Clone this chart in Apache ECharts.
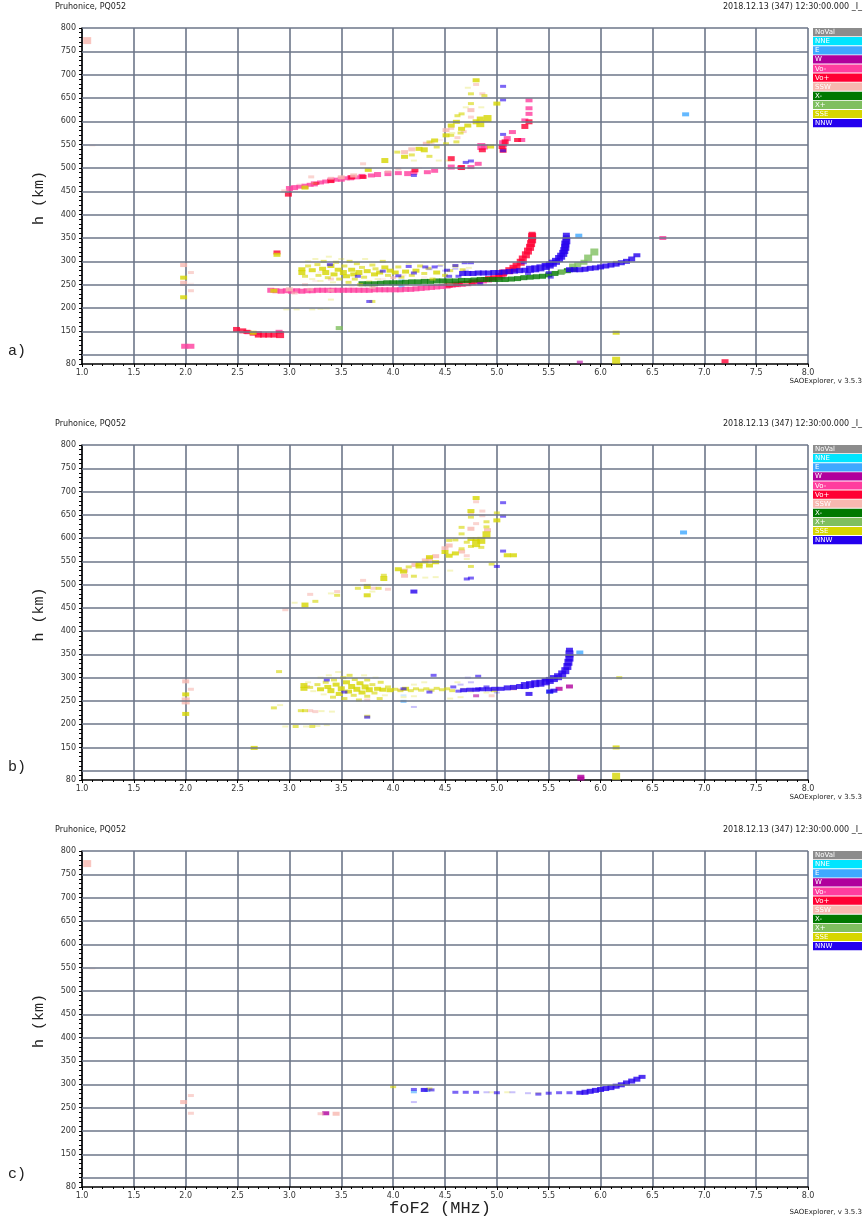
<!DOCTYPE html>
<html>
<head>
<meta charset="utf-8">
<script src="https://cdn.jsdelivr.net/npm/echarts@6/dist/echarts.min.js"></script>
<style>
  html, body { margin: 0; padding: 0; background: #fff; }
  #chart { width: 868px; height: 1223px; }
</style>
</head>
<body>
<div id="chart"></div>
<script>
// ionogram classes (legend order)
var classNames = ["NoVal", "NNE", "E", "W", "Vo-", "Vo+", "SSW", "X-", "X+", "SSE", "NNW"];
var classColors = ["#8c8c8c", "#00e5ff", "#3fa8ff", "#b0009c", "#ff3d9e", "#ff0033", "#f7b8b0", "#007800", "#7fbf5f", "#d6d600", "#2400ee"];

var heightLines = [100, 150, 200, 250, 300, 350, 400, 450, 500, 550, 600, 650, 700, 750, 800];
var heightLabels = [80, 150, 200, 250, 300, 350, 400, 450, 500, 550, 600, 650, 700, 750, 800];

// [freq MHz, virtual height km, amplitude 1..5]
// ---- panel a ----
var aSSW = [
  [1.05, 773, 5], [1.1, 548, 1], [1.98, 292, 3], [2.05, 276, 2], [1.98, 253, 4], [2.05, 237, 2], [2.05, 252, 1],
  [2.95, 451, 2], [3.1, 465, 1], [3.21, 481, 2], [3.4, 478, 2], [3.5, 480, 3], [3.62, 484, 3], [3.71, 509, 2],
  [3.95, 492, 2], [4.05, 498, 2], [4.11, 534, 3], [4.18, 540, 3], [4.25, 500, 1], [4.32, 552, 3], [4.37, 555, 2],
  [4.45, 560, 1], [4.51, 581, 3], [4.56, 585, 2], [4.62, 565, 2], [4.68, 578, 2], [4.75, 609, 2], [4.75, 624, 3],
  [4.8, 679, 2], [4.86, 659, 2],
  [3.0, 240, 3], [3.05, 232, 2], [3.15, 250, 2], [3.2, 240, 2], [3.25, 258, 1], [3.3, 277, 1], [3.4, 262, 2],
  [3.4, 238, 2], [3.6, 245, 1], [3.8, 244, 2], [3.9, 262, 1], [4.0, 265, 2], [4.1, 270, 1], [4.3, 266, 1],
  [4.5, 256, 2], [4.55, 251, 2], [4.6, 254, 1], [4.7, 252, 2], [4.85, 262, 2]
];
var aVoMinus = [
  [1.99, 118, 4], [2.05, 118, 4], [2.6, 148, 3], [2.7, 146, 3], [2.9, 149, 3], [6.6, 350, 3],
  [2.82, 238, 4], [2.87, 237, 4], [2.92, 236, 4], [2.97, 237, 4], [3.02, 236, 4], [3.07, 237, 4], [3.12, 236, 4],
  [3.17, 237, 4], [3.22, 237, 4], [3.27, 238, 4], [3.32, 238, 4], [3.37, 238, 4], [3.42, 238, 4], [3.47, 238, 4],
  [3.52, 238, 4], [3.57, 238, 4], [3.62, 238, 4], [3.67, 238, 4], [3.72, 238, 4], [3.77, 238, 4], [3.82, 239, 4],
  [3.87, 239, 4], [3.92, 239, 4], [3.97, 239, 4], [4.02, 239, 4], [4.07, 239, 4], [4.12, 240, 4], [4.17, 240, 4],
  [4.22, 241, 4], [4.27, 242, 4], [4.32, 243, 4], [4.37, 244, 4], [4.42, 245, 4], [4.47, 246, 4], [4.52, 247, 4],
  [4.57, 249, 4], [4.62, 250, 4], [4.67, 251, 4], [4.72, 252, 4], [4.77, 254, 4], [4.82, 256, 4], [4.87, 258, 4],
  [4.92, 260, 4], [4.97, 262, 4], [5.02, 265, 4], [5.05, 268, 4],
  [3.0, 456, 4], [3.05, 458, 4], [3.1, 460, 3], [3.15, 461, 4], [3.2, 464, 3], [3.24, 466, 4], [3.3, 469, 3],
  [3.35, 471, 3], [3.4, 474, 4], [3.45, 475, 3], [3.5, 476, 4], [3.55, 478, 3], [3.59, 479, 4], [3.65, 480, 3],
  [3.7, 482, 4], [3.79, 484, 3], [3.85, 486, 4], [3.95, 488, 4], [4.05, 489, 3], [4.14, 488, 4], [4.2, 490, 3],
  [4.33, 491, 3], [4.4, 494, 3], [4.56, 502, 4], [4.65, 501, 3], [4.75, 502, 3], [4.82, 509, 3], [4.85, 546, 5],
  [4.88, 545, 4], [5.06, 552, 5], [5.1, 563, 4], [5.15, 577, 3], [5.24, 560, 3], [5.27, 602, 3], [5.31, 616, 3],
  [5.31, 628, 3], [5.31, 645, 3]
];
var aVoPlus = [
  [2.49, 154, 4], [2.55, 151, 4], [2.59, 149, 3], [2.65, 145, 3], [2.7, 142, 4], [2.75, 142, 4], [2.8, 142, 4],
  [2.85, 142, 4], [2.91, 143, 5], [2.88, 319, 3], [7.2, 86, 3],
  [4.54, 249, 4], [4.6, 251, 4], [4.66, 252, 4], [4.71, 253, 4], [4.76, 256, 4], [4.83, 258, 4], [4.88, 261, 4],
  [4.92, 263, 4], [4.97, 265, 4], [5.02, 270, 4], [5.06, 275, 5], [5.12, 280, 5], [5.16, 285, 5], [5.19, 290, 5],
  [5.23, 298, 5], [5.25, 305, 5], [5.28, 314, 5], [5.3, 322, 5], [5.32, 330, 5], [5.33, 338, 5], [5.34, 346, 5],
  [5.34, 353, 5], [5.34, 358, 4],
  [2.99, 444, 4], [3.26, 467, 2], [3.4, 472, 3], [3.6, 480, 3], [3.71, 481, 3], [4.21, 495, 3], [4.56, 520, 4],
  [4.66, 501, 4], [4.86, 538, 3], [5.05, 545, 3], [5.06, 538, 4], [5.08, 556, 4], [5.2, 560, 3], [5.27, 589, 4],
  [5.31, 599, 4]
];
var aXMinus = [
  [3.7, 252, 4], [3.76, 252, 4], [3.82, 252, 4], [3.88, 253, 4], [3.94, 254, 4], [4.0, 254, 4], [4.06, 254, 4],
  [4.12, 255, 4], [4.18, 256, 4], [4.24, 256, 4], [4.3, 257, 4], [4.36, 257, 4], [4.42, 258, 4], [4.48, 258, 4],
  [4.54, 258, 4], [4.6, 258, 4], [4.66, 259, 4], [4.72, 259, 4], [4.78, 260, 4], [4.84, 261, 4], [4.9, 261, 4],
  [4.96, 261, 4], [5.02, 261, 4], [5.08, 261, 4], [5.14, 262, 4], [5.2, 263, 4], [5.26, 265, 4], [5.32, 266, 4],
  [5.38, 267, 4], [5.44, 268, 4], [5.5, 271, 4], [5.56, 274, 4], [5.62, 277, 4], [5.68, 280, 4], [5.74, 283, 4]
];
var aXPlus = [
  [3.48, 157, 3], [5.63, 277, 3], [5.73, 290, 4], [5.78, 293, 4], [5.84, 298, 4], [5.88, 307, 5], [5.94, 320, 5]
];
var aE = [[5.79, 355, 3], [6.82, 615, 3], [4.08, 258, 2], [4.08, 246, 2]];
var aW = [[5.8, 84, 2]];
var aSSE = [
  [1.98, 265, 3], [1.98, 223, 3], [2.65, 147, 3], [2.85, 237, 3], [2.88, 314, 3], [6.15, 147, 3], [6.15, 88, 5], [6.15, 298, 2],
  [2.97, 197, 1], [3.07, 197, 1], [3.22, 197, 1], [3.3, 198, 1], [3.36, 199, 1], [3.4, 218, 1], [3.8, 214, 2],
  [3.12, 283, 3], [3.12, 276, 4], [3.15, 268, 2], [3.18, 300, 1], [3.18, 290, 2], [3.22, 281, 3], [3.22, 262, 1],
  [3.25, 305, 1], [3.27, 293, 2], [3.28, 270, 2], [3.3, 258, 1], [3.32, 284, 3], [3.33, 300, 2], [3.35, 276, 4],
  [3.37, 265, 2], [3.38, 310, 1], [3.4, 290, 3], [3.42, 255, 1], [3.43, 272, 3], [3.45, 298, 2], [3.47, 282, 3],
  [3.48, 262, 2], [3.5, 305, 1], [3.52, 276, 4], [3.53, 290, 2], [3.55, 268, 3], [3.57, 255, 2], [3.58, 300, 2],
  [3.6, 282, 3], [3.62, 272, 3], [3.63, 262, 2], [3.65, 295, 2], [3.67, 276, 4], [3.68, 250, 2], [3.7, 287, 2],
  [3.72, 266, 2], [3.73, 305, 1], [3.75, 279, 3], [3.77, 258, 1], [3.8, 292, 2], [3.82, 272, 3], [3.83, 284, 2],
  [3.85, 262, 1], [3.87, 276, 3], [3.9, 300, 2], [3.92, 287, 3], [3.95, 270, 2], [3.97, 280, 3], [4.02, 276, 3],
  [4.05, 288, 2], [4.08, 266, 2], [4.12, 278, 3], [4.15, 295, 1], [4.18, 270, 2], [4.22, 280, 3], [4.26, 290, 2],
  [4.3, 274, 2], [4.34, 285, 2], [4.38, 262, 2], [4.42, 276, 3], [4.46, 292, 1], [4.5, 270, 2], [4.55, 280, 2],
  [4.6, 290, 2], [4.67, 282, 2], [4.73, 286, 1], [4.82, 275, 1],
  [3.15, 458, 3], [3.24, 467, 1], [3.76, 496, 3], [3.92, 516, 4], [4.04, 534, 2], [4.11, 524, 3], [4.18, 528, 2],
  [4.2, 516, 1], [4.25, 541, 3], [4.3, 539, 4], [4.35, 556, 2], [4.35, 525, 2], [4.4, 559, 3], [4.42, 545, 2],
  [4.44, 516, 1], [4.51, 570, 3], [4.51, 552, 2], [4.53, 516, 1], [4.56, 591, 3], [4.56, 570, 2], [4.57, 575, 1],
  [4.61, 599, 3], [4.61, 556, 2], [4.62, 612, 2], [4.65, 575, 2], [4.66, 616, 2], [4.66, 584, 3], [4.7, 630, 1],
  [4.72, 591, 3], [4.72, 672, 1], [4.75, 638, 2], [4.75, 659, 2], [4.8, 599, 4], [4.8, 688, 3], [4.84, 595, 5],
  [4.84, 606, 3], [4.85, 630, 1], [4.88, 655, 2], [4.91, 606, 5], [4.94, 546, 3], [5.0, 638, 3]
];
var aNNW = [
  [4.67, 274, 4], [4.72, 274, 4], [4.77, 274, 4], [4.82, 275, 4], [4.87, 275, 4], [4.92, 275, 4], [4.97, 276, 4],
  [5.02, 276, 4], [5.07, 277, 4], [5.12, 278, 4], [5.17, 279, 4], [5.22, 280, 4], [5.27, 281, 4], [5.32, 283, 5],
  [5.37, 284, 5], [5.42, 286, 5], [5.47, 289, 5], [5.51, 292, 5], [5.54, 296, 5], [5.57, 300, 5], [5.6, 306, 5],
  [5.62, 311, 5], [5.64, 317, 5], [5.65, 323, 5], [5.66, 330, 5], [5.66, 337, 5], [5.67, 344, 5], [5.67, 350, 4],
  [5.67, 357, 3],
  [5.7, 282, 4], [5.75, 282, 4], [5.8, 282, 4], [5.85, 283, 4], [5.9, 285, 4], [5.95, 286, 4], [6.0, 288, 4],
  [6.05, 290, 4], [6.1, 292, 4], [6.15, 294, 4], [6.2, 297, 4], [6.25, 300, 4], [6.3, 305, 4], [6.35, 313, 3],
  [3.39, 293, 2], [3.66, 268, 2], [3.77, 214, 2], [3.9, 279, 2], [4.05, 269, 2], [4.15, 289, 2], [4.2, 275, 2],
  [4.31, 288, 2], [4.4, 288, 2], [4.52, 281, 2], [4.54, 268, 2], [4.6, 291, 2], [4.63, 268, 2], [4.69, 297, 2],
  [4.75, 297, 2], [4.84, 252, 2], [5.26, 297, 2], [5.3, 274, 2], [5.47, 292, 2], [5.5, 276, 2], [5.52, 266, 2],
  [4.35, 283, 1], [4.45, 290, 1], [4.5, 280, 1], [4.6, 284, 1], [4.7, 280, 1],
  [5.06, 675, 2], [5.06, 646, 2], [5.06, 572, 2], [5.06, 537, 2], [4.75, 515, 2], [4.7, 512, 2], [4.2, 484, 2]
];

// ---- panel b ----
var bSSW = [
  [2.0, 292, 3], [2.05, 275, 2], [2.0, 250, 5], [3.17, 281, 2], [3.2, 229, 2], [3.25, 227, 2], [3.75, 252, 2],
  [4.07, 274, 2], [4.95, 261, 2], [5.16, 277, 3],
  [2.96, 446, 2], [3.2, 479, 2], [3.46, 485, 2], [3.71, 509, 2], [3.81, 492, 2], [3.95, 490, 2], [4.11, 530, 3],
  [4.11, 519, 3], [4.21, 542, 3], [4.31, 552, 3], [4.35, 555, 4], [4.41, 561, 3], [4.5, 578, 3], [4.54, 584, 3],
  [4.66, 571, 3], [4.71, 562, 2], [4.75, 620, 3], [4.75, 653, 2], [4.8, 631, 2], [4.8, 678, 2], [4.86, 658, 2],
  [4.86, 648, 2], [4.91, 617, 3]
];
var bSSE = [
  [2.0, 264, 3], [2.0, 222, 3], [2.66, 149, 3], [2.9, 313, 2], [2.85, 235, 2], [2.91, 241, 1], [3.75, 217, 2],
  [6.18, 300, 2], [6.15, 150, 3], [6.15, 88, 5],
  [2.96, 195, 1], [3.06, 195, 2], [3.16, 195, 1], [3.22, 195, 2], [3.27, 196, 1], [3.36, 198, 1],
  [3.11, 229, 2], [3.15, 229, 2], [3.31, 228, 1], [3.41, 227, 1],
  [3.14, 283, 4], [3.14, 276, 3], [3.18, 290, 1], [3.2, 279, 2], [3.23, 271, 1], [3.27, 285, 2], [3.3, 300, 1],
  [3.3, 275, 3], [3.33, 264, 1], [3.35, 290, 2], [3.37, 280, 3], [3.38, 305, 1], [3.4, 272, 4], [3.42, 258, 2],
  [3.43, 295, 2], [3.45, 285, 3], [3.47, 312, 1], [3.48, 265, 3], [3.5, 276, 4], [3.52, 300, 2], [3.53, 255, 2],
  [3.55, 290, 3], [3.57, 270, 3], [3.58, 305, 2], [3.6, 281, 4], [3.62, 262, 2], [3.63, 296, 2], [3.65, 275, 4],
  [3.67, 252, 2], [3.68, 288, 3], [3.7, 268, 3], [3.72, 305, 1], [3.73, 280, 4], [3.75, 260, 2], [3.75, 295, 2],
  [3.77, 274, 4], [3.8, 285, 2], [3.82, 267, 2], [3.83, 300, 1], [3.85, 276, 3], [3.87, 255, 2], [3.88, 290, 2],
  [3.9, 274, 3], [3.92, 262, 1], [3.95, 280, 2], [3.97, 273, 3],
  [4.02, 275, 2], [4.07, 272, 2], [4.1, 258, 1], [4.12, 276, 3], [4.17, 272, 2], [4.2, 285, 1], [4.2, 260, 1],
  [4.22, 276, 2], [4.27, 273, 2], [4.3, 290, 1], [4.32, 276, 2], [4.37, 273, 2], [4.42, 277, 2], [4.47, 274, 2],
  [4.52, 276, 2], [4.55, 255, 1], [4.57, 272, 2], [4.62, 290, 1], [4.65, 258, 1], [4.67, 276, 1], [4.75, 270, 1],
  [4.82, 275, 1], [4.9, 268, 1], [4.97, 272, 2],
  [3.05, 461, 1], [3.15, 456, 4], [3.25, 464, 2], [3.4, 481, 1], [3.46, 477, 2], [3.66, 492, 2], [3.75, 496, 4],
  [3.75, 477, 3], [3.8, 485, 1], [3.86, 492, 2], [3.91, 513, 4], [3.91, 520, 2], [4.05, 533, 3], [4.1, 528, 3],
  [4.15, 538, 2], [4.2, 518, 2], [4.25, 544, 3], [4.25, 539, 3], [4.31, 515, 1], [4.31, 548, 2], [4.35, 559, 3],
  [4.35, 541, 3], [4.41, 548, 3], [4.41, 516, 1], [4.5, 570, 3], [4.54, 562, 3], [4.54, 595, 2], [4.55, 530, 1],
  [4.6, 567, 3], [4.6, 596, 2], [4.66, 577, 2], [4.66, 609, 2], [4.66, 623, 2], [4.71, 591, 2], [4.71, 555, 1],
  [4.75, 598, 3], [4.75, 582, 2], [4.75, 658, 3], [4.75, 645, 2], [4.75, 539, 2], [4.8, 686, 3], [4.8, 588, 5],
  [4.8, 598, 3], [4.85, 595, 5], [4.85, 580, 2], [4.9, 607, 5], [4.9, 624, 2], [4.9, 635, 2], [4.95, 544, 2],
  [5.0, 638, 3], [5.0, 654, 2], [5.1, 563, 3], [5.16, 563, 3]
];
var bNNW = [
  [4.68, 273, 3], [4.74, 274, 3], [4.8, 274, 3], [4.86, 275, 3], [4.92, 275, 3], [4.98, 276, 3], [5.04, 276, 3],
  [5.1, 278, 4], [5.16, 279, 4], [5.22, 281, 4], [5.27, 283, 5], [5.32, 285, 5], [5.37, 287, 5], [5.42, 288, 5],
  [5.47, 291, 5], [5.51, 294, 5], [5.55, 298, 5], [5.59, 302, 5], [5.63, 308, 5], [5.66, 315, 5], [5.68, 324, 5],
  [5.69, 333, 5], [5.7, 342, 5], [5.7, 351, 5], [5.7, 360, 3],
  [3.36, 295, 2], [3.53, 269, 2], [3.75, 215, 2], [4.1, 276, 2], [4.2, 237, 1], [4.35, 269, 2], [4.39, 305, 2],
  [4.58, 280, 2], [4.63, 271, 2], [4.72, 300, 1], [4.82, 303, 2], [4.82, 276, 2], [4.9, 280, 2], [5.31, 265, 3],
  [5.51, 270, 3], [5.55, 272, 3], [5.47, 295, 2], [4.75, 290, 1], [4.65, 285, 1], [5.0, 268, 1],
  [5.06, 676, 2], [5.06, 647, 2], [5.06, 572, 2], [5.0, 539, 2], [4.75, 514, 2], [4.71, 512, 2], [4.2, 485, 3]
];
var bW = [[4.8, 261, 2], [5.6, 276, 3], [5.7, 281, 3], [5.81, 87, 3], [5.81, 83, 3]];
var bE = [[4.1, 249, 2], [4.1, 262, 1], [5.8, 354, 3], [5.51, 270, 3], [6.8, 612, 3]];

// ---- panel c ----
var cSSW = [[1.05, 773, 5], [1.1, 548, 1], [2.05, 276, 2], [1.98, 262, 3], [2.05, 238, 2], [3.3, 237, 2], [3.45, 237, 3]];
var cW = [[3.35, 238, 3]];
var cSSE = [[4.0, 295, 2], [4.35, 290, 2], [4.95, 283, 1], [5.1, 283, 1], [5.4, 281, 1]];
var cE = [[4.2, 284, 2], [4.33, 287, 2]];
var cNNW = [
  [4.2, 289, 2], [4.2, 262, 1], [4.3, 288, 3], [4.37, 288, 2], [4.6, 283, 2], [4.7, 283, 2], [4.8, 283, 2],
  [4.9, 283, 1], [5.0, 282, 2], [5.15, 283, 1], [5.3, 281, 1], [5.4, 279, 2], [5.5, 281, 2], [5.6, 282, 2],
  [5.7, 282, 2], [5.8, 282, 3],
  [5.85, 283, 4], [5.9, 285, 4], [5.95, 287, 4], [6.0, 289, 4], [6.05, 291, 4], [6.1, 293, 4], [6.15, 296, 4],
  [6.2, 299, 4], [6.25, 303, 4], [6.3, 307, 4], [6.35, 311, 4], [6.4, 316, 3]
];

var panelSeries = [
  { "SSW": aSSW, "Vo-": aVoMinus, "Vo+": aVoPlus, "X-": aXMinus, "X+": aXPlus, "E": aE, "W": aW, "SSE": aSSE, "NNW": aNNW },
  { "SSW": bSSW, "SSE": bSSE, "NNW": bNNW, "W": bW, "E": bE },
  { "SSW": cSSW, "W": cW, "SSE": cSSE, "E": cE, "NNW": cNNW }
];
var panelLetters = ["a)", "b)", "c)"];

// layout
var gridLeft = 82, gridRight = 808;
var gridTops = [28, 445, 851];
var gridHeights = [336, 335, 336];
var footerGap = [14, 14, 22];
var gridColor = "#6d7689";
var ampSize = { 1: [6, 2], 2: [6, 3], 3: [7, 4], 4: [7, 5], 5: [8, 7] };
var ampAlpha = { 1: 0.3, 2: 0.75, 3: 1, 4: 1, 5: 1 };

function rgba(hex, a) {
  var n = parseInt(hex.slice(1), 16);
  return "rgba(" + (n >> 16) + "," + ((n >> 8) & 255) + "," + (n & 255) + "," + a + ")";
}

var chart = echarts.init(document.getElementById("chart"), null, { renderer: "canvas" });

var grids = [], xAxes = [], yAxes = [], series = [], graphics = [];
var smallFont = "DejaVu Sans";
var monoFont = "Liberation Mono";

for (var p = 0; p < 3; p++) {
  var gTop = gridTops[p], gH = gridHeights[p], gBottom = gTop + gH;
  grids.push({ left: gridLeft, top: gTop, width: gridRight - gridLeft, height: gH });
  xAxes.push({
    gridIndex: p, type: "value", min: 1, max: 8, interval: 0.5,
    axisLine: { show: true, onZero: false, lineStyle: { color: "#000", width: 1.5 } },
    axisTick: { show: true, length: 3, lineStyle: { color: "#000" } },
    minorTick: { show: true, splitNumber: 5, length: 2, lineStyle: { color: "#000" } },
    axisLabel: { fontSize: 8, fontFamily: smallFont, color: "#333", margin: 5,
      formatter: function (v) { return v.toFixed(1); } },
    splitLine: { show: true, lineStyle: { color: gridColor, width: 1.6 } }
  });
  yAxes.push({
    gridIndex: p, type: "value", min: 80, max: 800, interval: 10,
    axisLine: { show: true, onZero: false, lineStyle: { color: "#000", width: 1.5 } },
    axisTick: { show: true, length: 3, lineStyle: { color: "#000" } },
    axisLabel: { fontSize: 8, fontFamily: smallFont, color: "#333", margin: 6,
      formatter: function (v) { return heightLabels.indexOf(v) >= 0 ? String(v) : ""; } },
    splitLine: { show: false }
  });
  // horizontal grid lines
  series.push({
    type: "scatter", xAxisIndex: p, yAxisIndex: p, data: [[1, 80]], symbolSize: 0, silent: true, z: 1,
    markLine: {
      silent: true, symbol: "none", animation: false, label: { show: false },
      lineStyle: { color: gridColor, width: 1.6, type: "solid" },
      data: heightLines.map(function (v) { return { yAxis: v }; })
    }
  });
  var groups = panelSeries[p];
  classNames.forEach(function (name, ci) {
    if (!groups[name]) return;
    var col = classColors[ci];
    series.push({
      type: "scatter", name: name, xAxisIndex: p, yAxisIndex: p, data: groups[name], z: 3,
      symbol: "rect",
      symbolSize: function (val) { return ampSize[val[2]]; },
      itemStyle: { color: function (prm) { return rgba(col, ampAlpha[prm.value[2]]); } },
      silent: true, animation: false
    });
  });

  // header and footer texts
  graphics.push({ type: "text", left: 55, top: gTop - 25, style: { text: "Pruhonice, PQ052", font: "8px " + smallFont, fill: "#222" } });
  graphics.push({ type: "text", right: 6, top: gTop - 25, style: { text: "2018.12.13 (347) 12:30:00.000 _I_", font: "8px " + smallFont, fill: "#222" } });
  graphics.push({ type: "text", right: 6, top: gBottom + footerGap[p], style: { text: "SAOExplorer, v 3.5.3", font: "7px " + smallFont, fill: "#222" } });
  graphics.push({ type: "text", left: 8, top: gBottom - 20, style: { text: panelLetters[p], font: "15px " + monoFont, fill: "#222" } });
  graphics.push({ type: "text", x: 39, y: gTop + gH / 2 + 2, rotation: Math.PI / 2,
    style: { text: "h (km)", font: "15px " + monoFont, fill: "#222", align: "center", verticalAlign: "middle" } });

  // legend boxes
  classNames.forEach(function (name, ci) {
    var ly = gTop + ci * 9.1;
    graphics.push({ type: "rect", shape: { x: 813, y: ly, width: 49, height: 8.2 }, style: { fill: classColors[ci] } });
    graphics.push({ type: "text", x: 815, y: ly + 4.3, style: { text: name, font: "7px " + smallFont, fill: "#fff", verticalAlign: "middle" } });
  });
}
graphics.push({ type: "text", x: 440, y: 1208, style: { text: "foF2 (MHz)", font: "17px " + monoFont, fill: "#222", align: "center", verticalAlign: "middle" } });

var option = {
  backgroundColor: "#fff",
  animation: false,
  grid: grids,
  xAxis: xAxes,
  yAxis: yAxes,
  graphic: graphics,
  series: series
};
chart.setOption(option);
</script>
</body>
</html>
